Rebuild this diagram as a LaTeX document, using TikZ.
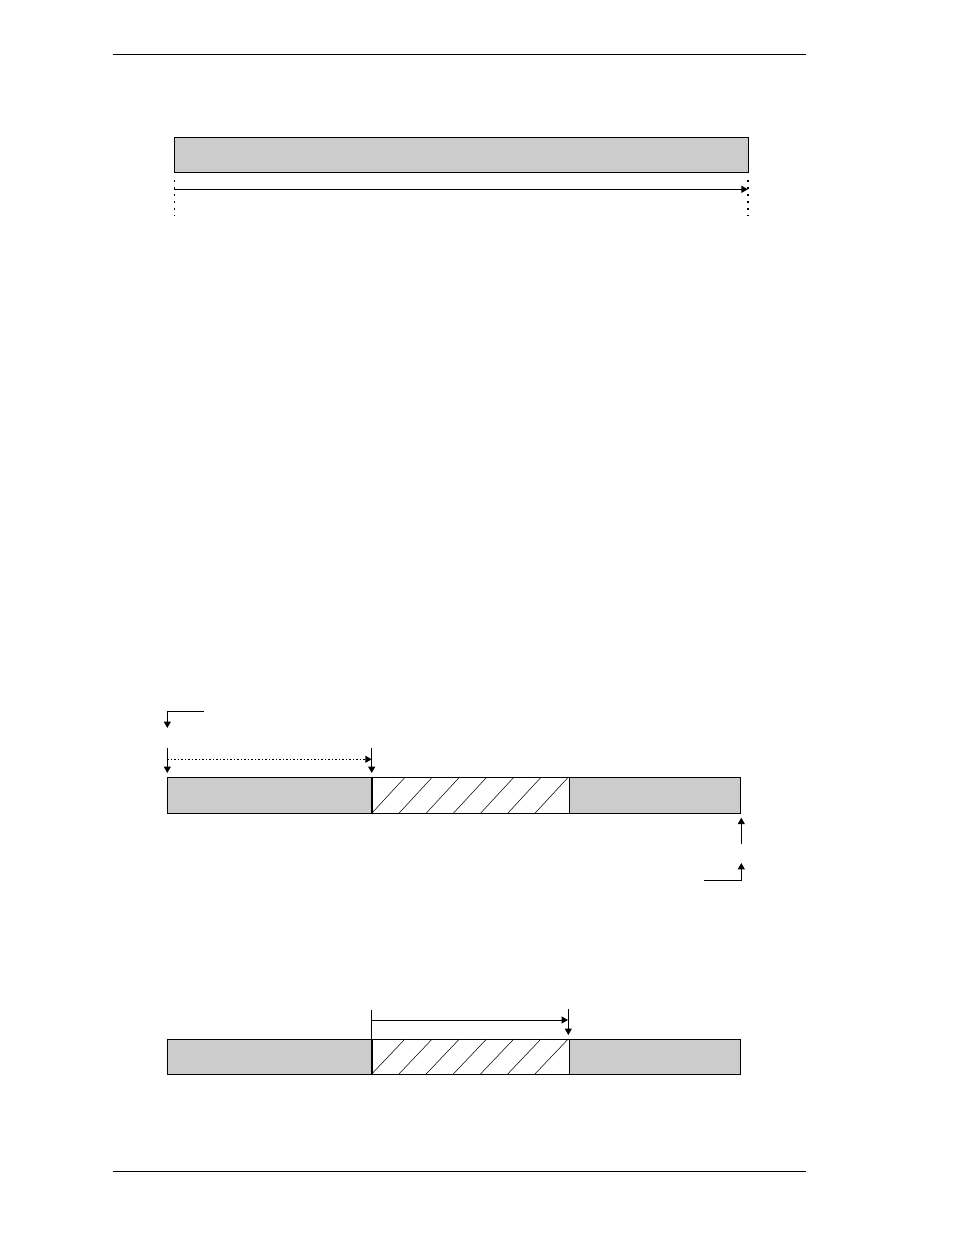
\documentclass[tikz,border=0pt]{standalone}
\definecolor{bargray}{HTML}{CCCCCC}
\usetikzlibrary{arrows.meta, positioning, calc}

\begin{document}
\begin{tikzpicture}[x=0.75pt, y=-0.75pt, line width=0.75pt, >={Triangle[length=4.8pt, width=5.2pt]}, Seg/.style={draw, fill=bargray, inner sep=0pt, outer sep=0pt}, Hatch/.style={draw, fill=white, inner sep=0pt, outer sep=0pt}, Dots/.style={dash pattern=on 1.5pt off 3.75pt}, DashDot/.style={dash pattern=on 1.5pt off 1.5pt on 0.75pt off 1.5pt}]
\useasboundingbox (0,0) rectangle (954,1235);
\draw (112.7,54.3) -- (805.7,54.3); % page rules
\draw (112.7,1171.7) -- (805.7,1171.7);
% whole frame
\node[Seg, minimum width=430.9pt, minimum height=26.25pt, anchor=north west] (frame) at (174,137.3) {};
\draw[->] ($(frame.south west)+(0,17)$) -- ($(frame.south east)+(-0.7,17)$);
\draw[Dots, line width=0.5pt] ($(frame.south west)+(0,7.5)$) -- ++(0,36.5);
\draw[Dots, line width=1.5pt] ($(frame.south east)+(-0.7,7.5)$) -- ++(0,36.5);
% first split
\node[Seg, minimum width=153.3pt, minimum height=27pt, anchor=north west] (lowA) at (167.3,777.3) {};
\node[Hatch, minimum width=148.2pt, minimum height=27pt, right=0pt of lowA] (hatchA) {};
\node[Seg, minimum width=128.25pt, minimum height=27pt, right=0pt of hatchA] (highA) {};
% second split
\node[Seg, minimum width=153.3pt, minimum height=26.25pt, anchor=north west] (lowB) at (167.3,1039) {};
\node[Hatch, minimum width=148.2pt, minimum height=26.25pt, right=0pt of lowB] (hatchB) {};
\node[Seg, minimum width=128.25pt, minimum height=26.25pt, right=0pt of hatchB] (highB) {};
\foreach \h in {hatchA, hatchB} {
	\foreach \i in {0,...,6}
		\draw[line width=0.4pt] ($(\h.south west)+(\i*27.2,0)$) -- ($(\h.north west)+(\i*27.2+33.3,0)$);
	\draw[line width=1.6pt] (\h.north west) -- (\h.south west);
}
\coordinate (startA) at ($(lowA.north west)+(0,-29.3)$);
\coordinate (markA) at ($(lowA.north east)+(0,-29.3)$);
\draw[->] ($(lowA.north west)+(37,-66)$) -| ($(lowA.north west)+(0,-49.3)$);
\draw[->] (startA) -- ++(0,25);
\draw[->] (markA) -- ++(0,25);
\draw[->, DashDot] ($(startA)+(0,11.3)$) -- ($(markA)+(0,11.3)$);
\draw[->] ($(highA.south east)+(1,31)$) -- ($(highA.south east)+(1,4.4)$);
\draw[->] ($(highA.south east)+(-36,66.7)$) -| ($(highA.south east)+(1,49.7)$);
\draw (hatchB.north west) -- ++(0,-29.3);
\draw[->] ($(hatchB.north west)+(0,-19)$) -- ($(hatchB.north east)+(-1.3,-19)$);
\draw[->] ($(hatchB.north east)+(-1,-30)$) -- ++(0,26);
\end{tikzpicture}
\end{document}
